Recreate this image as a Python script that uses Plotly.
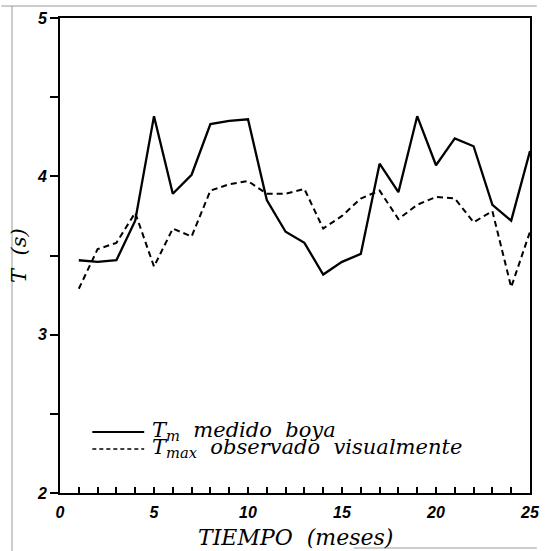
import plotly.graph_objects as go

# ---- data ----
months = list(range(1, 26))
tm_boya = [3.47, 3.46, 3.47, 3.72, 4.38, 3.89, 4.01, 4.33, 4.35, 4.36,
           3.85, 3.65, 3.58, 3.38, 3.46, 3.51, 4.08, 3.90, 4.38, 4.07,
           4.24, 4.19, 3.82, 3.72, 4.16]
tmax_visual = [3.29, 3.54, 3.58, 3.77, 3.43, 3.67, 3.62, 3.91, 3.95, 3.97,
               3.89, 3.89, 3.92, 3.67, 3.75, 3.86, 3.91, 3.73, 3.82, 3.87,
               3.86, 3.71, 3.78, 3.30, 3.65]
series_names = ["<i>T</i><sub><i>m</i></sub><i>  medido  boya</i>",
                "<i>T</i><sub><i>max</i></sub><i>  observado  visualmente</i>"]
x_major = [0, 5, 10, 15, 20, 25]
x_minor = [v for v in range(0, 26) if v % 5 != 0]
y_major = [2, 3, 4, 5]
y_minor = [2.5, 3.5, 4.5]
x_title = "<i>TIEMPO  (meses)</i>"
y_title = "<i>T  (s)</i>"

W, H = 547, 551
L, R, T, B = 60, 7, 18, 58
PW, PH = W - L - R, H - T - B


def px(xpix):
    return (xpix - L) / PW


def py(ypix):
    return (H - B - ypix) / PH


fig = go.Figure()
fig.add_trace(go.Scatter(x=months, y=tm_boya, mode="lines", name=series_names[0],
                         line=dict(color="black", width=2.3), showlegend=False))
fig.add_trace(go.Scatter(x=months, y=tmax_visual, mode="lines", name=series_names[1],
                         line=dict(color="black", width=2, dash="6px,4px"), showlegend=False))

tickfont = dict(family="Liberation Sans", size=16, color="black", weight="bold", style="italic")
serif = "DejaVu Serif"

fig.update_layout(
    width=W, height=H,
    margin=dict(l=L, r=R, t=T, b=B, pad=0),
    paper_bgcolor="white", plot_bgcolor="white",
    xaxis=dict(range=[0, 25], tickmode="array", tickvals=x_major,
               ticks="inside", ticklen=6, tickwidth=1.6, tickcolor="black",
               minor=dict(tickmode="array", tickvals=x_minor, ticks="inside",
                          ticklen=6, tickwidth=1.6, tickcolor="black", showgrid=False),
               ticklabeloverflow="allow", ticklabelstandoff=4,
               showline=True, linewidth=2, linecolor="black", mirror=True,
               showgrid=False, zeroline=False, tickfont=tickfont),
    yaxis=dict(range=[2, 5], tickmode="array", tickvals=y_major,
               ticks="outside", ticklen=8, tickwidth=1.6, tickcolor="black",
               minor=dict(tickmode="array", tickvals=y_minor, ticks="outside",
                          ticklen=8, tickwidth=1.6, tickcolor="black", showgrid=False),
               ticklabeloverflow="allow",
               showline=True, linewidth=2, linecolor="black", mirror=True,
               showgrid=False, zeroline=False, tickfont=tickfont),
)

# axis titles
fig.add_annotation(text=x_title, xref="paper", yref="paper", x=0.5, y=py(537),
                   xanchor="center", yanchor="middle", showarrow=False,
                   font=dict(family=serif, size=22, color="black"))
fig.add_annotation(text=y_title, xref="paper", yref="paper", x=px(18), y=py(255),
                   xanchor="center", yanchor="middle", showarrow=False, textangle=-90,
                   font=dict(family=serif, size=21, color="black"))

# legend (drawn manually to match the long sample lines)
leg_y = [432, 449]
dashes = ["solid", "4px,3px"]
for name, yy, d in zip(series_names, leg_y, dashes):
    fig.add_shape(type="line", xref="paper", yref="paper",
                  x0=px(93), x1=px(146), y0=py(yy), y1=py(yy),
                  line=dict(color="black", width=2 if d == "solid" else 1.6, dash=d))
    fig.add_annotation(text=name, xref="paper", yref="paper", x=px(152), y=py(yy - 1),
                       xanchor="left", yanchor="middle", showarrow=False,
                       font=dict(family=serif, size=21, color="black"))

# faint scan-edge lines of the original figure
edge = dict(color="#9a9a9a", width=1)
fig.add_shape(type="line", xref="paper", yref="paper", x0=px(0), x1=px(547), y0=py(6), y1=py(6), line=edge)
fig.add_shape(type="line", xref="paper", yref="paper", x0=px(11), x1=px(11), y0=py(6), y1=py(551), line=edge)
fig.add_shape(type="line", xref="paper", yref="paper", x0=px(360), x1=px(547), y0=py(548), y1=py(548), line=edge)

fig.write_html("out.html")
